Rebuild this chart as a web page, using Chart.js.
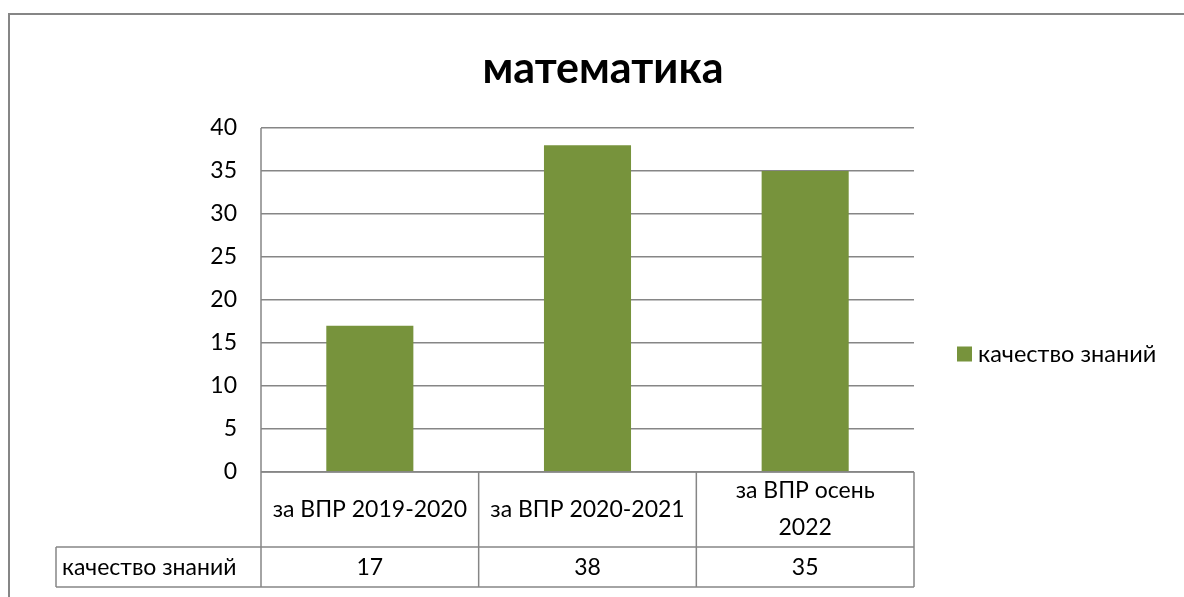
<!DOCTYPE html>
<html>
<head>
<meta charset="utf-8">
<script src="https://cdn.jsdelivr.net/npm/chart.js@4"></script>
<style>
  html, body { margin: 0; padding: 0; background: #fff; overflow: hidden; }
  #frame {
    position: absolute; left: 8px; top: 13px;
    width: 1190px; height: 600px;
    border-left: 2px solid #868686; border-top: 2px solid #868686;
  }
  #chart { position: absolute; left: 0; top: 0; }
</style>
</head>
<body>
<div id="frame"><canvas id="chart" width="1186" height="590"></canvas></div>
<script>
  var chartTitle = "математика";
  var categories = ["за ВПР 2019-2020", "за ВПР 2020-2021", ["за ВПР осень", "2022"]];
  var seriesName = "качество знаний";
  var seriesValues = [17, 38, 35];
  var yTicks = [0, 5, 10, 15, 20, 25, 30, 35, 40];

  var FONT = "Lato, 'Noto Sans', sans-serif";
  var GRID = "#868686";
  var BAR = "#77933C";

  // title centred on the whole chart object, data table under the plot, legend on the right
  var excelBits = {
    id: "excelBits",
    afterDraw: function (chart) {
      var ctx = chart.ctx;
      var area = chart.chartArea;
      var x = chart.scales.x;
      var half = area.width / categories.length / 2;
      var row1 = area.bottom, row2 = area.bottom + 75, row3 = area.bottom + 115;
      var leftCol = area.left - 205;

      ctx.save();
      ctx.fillStyle = "#000";
      ctx.font = "bold 43px " + FONT;
      ctx.textAlign = "center";
      ctx.textBaseline = "middle";
      ctx.fillText(chartTitle, chart.width / 2, 54);

      ctx.strokeStyle = GRID;
      ctx.lineWidth = 1.5;
      ctx.beginPath();
      ctx.moveTo(area.left, row1); ctx.lineTo(area.right, row1);
      ctx.moveTo(leftCol, row2); ctx.lineTo(area.right, row2);
      ctx.moveTo(leftCol, row3); ctx.lineTo(area.right, row3);
      ctx.moveTo(leftCol, row2); ctx.lineTo(leftCol, row3);
      ctx.moveTo(area.left, area.top); ctx.lineTo(area.left, row3);
      categories.forEach(function (c, i) {
        var r = x.getPixelForValue(i) + half;
        ctx.moveTo(r, row1); ctx.lineTo(r, row3);
      });
      ctx.stroke();

      ctx.font = "23px " + FONT;
      categories.forEach(function (c, i) {
        var cx = x.getPixelForValue(i);
        var lines = Array.isArray(c) ? c : [c];
        var lh = 37;
        var y0 = (row1 + row2) / 2 - (lines.length - 1) * lh / 2;
        lines.forEach(function (t, k) { ctx.fillText(t, cx, y0 + k * lh); });
        ctx.fillText(String(seriesValues[i]), cx, (row2 + row3) / 2 + 1);
      });
      ctx.textAlign = "left";
      ctx.fillText(seriesName, leftCol + 6, (row2 + row3) / 2 + 1);

      var ly = (area.top + row3) / 2 - 4;
      ctx.fillStyle = BAR;
      ctx.fillRect(area.right + 43, ly - 7, 15, 15);
      ctx.fillStyle = "#000";
      ctx.font = "23.5px " + FONT;
      ctx.fillText(seriesName, area.right + 64, ly + 1);
      ctx.restore();
    }
  };

  new Chart(document.getElementById("chart"), {
    type: "bar",
    data: {
      labels: categories,
      datasets: [{ label: seriesName, data: seriesValues, backgroundColor: BAR,
                   barPercentage: 0.4, categoryPercentage: 1 }]
    },
    options: {
      responsive: false,
      animation: false,
      layout: { padding: { left: 191, right: 282, top: 113, bottom: 133 } },
      plugins: {
        legend: { display: false },
        tooltip: { enabled: false },
        title: { display: false }
      },
      scales: {
        x: { display: false },
        y: {
          min: 0, max: 40,
          afterBuildTicks: function (s) { s.ticks = yTicks.map(function (v) { return { value: v }; }); },
          afterFit: function (s) { s.width = 60; },
          border: { display: false },
          grid: { color: GRID, lineWidth: 1.5, drawTicks: false },
          ticks: { color: "#000", padding: 24, font: { family: FONT, size: 23 } }
        }
      }
    },
    plugins: [excelBits]
  });
</script>
</body>
</html>
